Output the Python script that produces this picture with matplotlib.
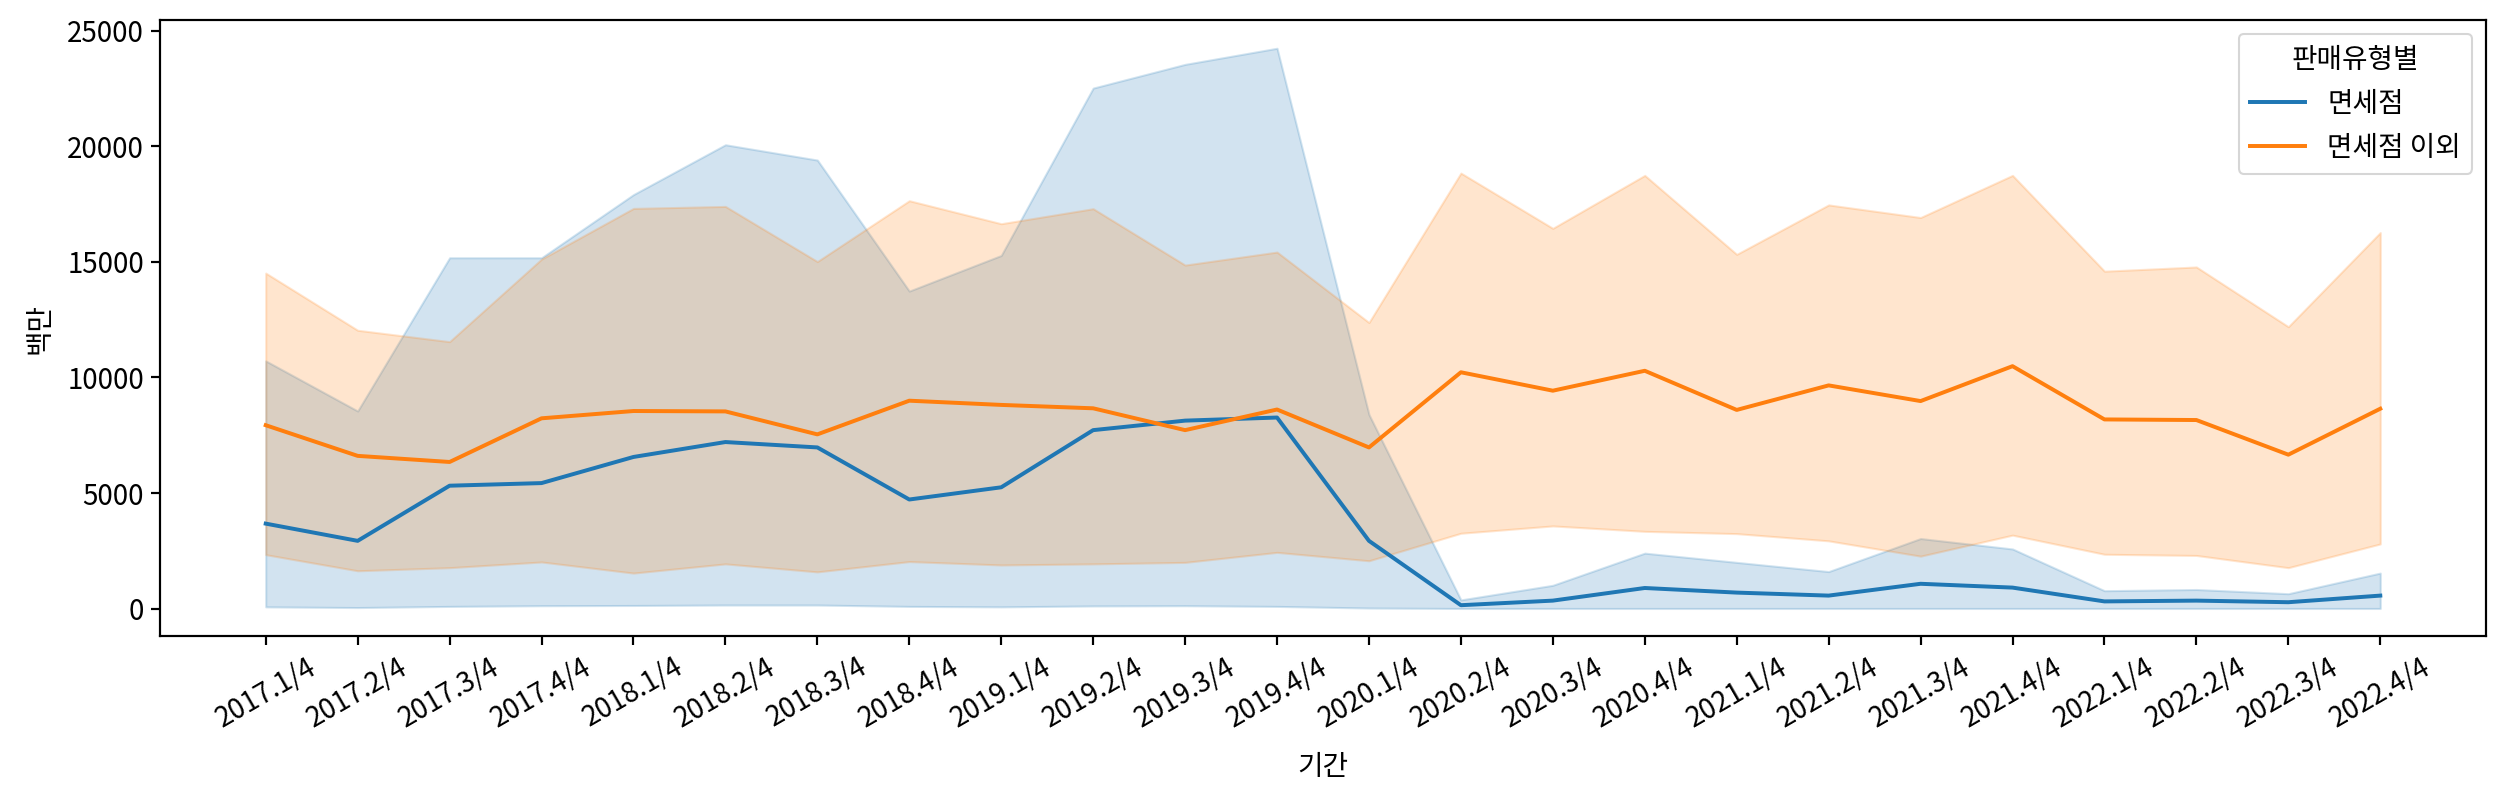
import matplotlib
matplotlib.use("Agg")
import matplotlib.pyplot as plt
import numpy as np

plt.rcParams['font.family'] = ['Noto Sans CJK KR', 'DejaVu Sans']
plt.rcParams['axes.unicode_minus'] = False
plt.rcParams['font.size'] = 13.3
plt.rcParams['axes.linewidth'] = 1.05
plt.rcParams['xtick.major.width'] = 1.05
plt.rcParams['ytick.major.width'] = 1.05
plt.rcParams['xtick.major.size'] = 4.2
plt.rcParams['ytick.major.size'] = 4.2

periods = ["2017.1/4", "2017.2/4", "2017.3/4", "2017.4/4",
           "2018.1/4", "2018.2/4", "2018.3/4", "2018.4/4",
           "2019.1/4", "2019.2/4", "2019.3/4", "2019.4/4",
           "2020.1/4", "2020.2/4", "2020.3/4", "2020.4/4",
           "2021.1/4", "2021.2/4", "2021.3/4", "2021.4/4",
           "2022.1/4", "2022.2/4", "2022.3/4", "2022.4/4"]

dutyfree_mean = [3680, 2935, 5320, 5433, 6563, 7208, 6975, 4723,
                 5251, 7723, 8134, 8268, 2935, 152, 350, 896,
                 697, 567, 1078, 913, 316, 350, 281, 567]
dutyfree_upper = [10718, 8550, 15177, 15177, 17909, 20065, 19403, 13736,
                  15277, 22515, 23541, 24238, 8398, 381, 1013, 2403,
                  2004, 1606, 3035, 2584, 779, 831, 649, 1541]
dutyfree_lower = [80, 50, 100, 130, 140, 160, 160, 100,
                  80, 120, 130, 100, 30, 10, 10, 10,
                  10, 10, 10, 10, 10, 10, 10, 10]

other_mean = [7936, 6610, 6346, 8234, 8550, 8533, 7540, 8996,
              8814, 8667, 7723, 8615, 6975, 10225, 9429, 10290,
              8597, 9658, 8980, 10489, 8186, 8160, 6662, 8649]
other_upper = [14515, 12043, 11550, 15120, 17312, 17398, 15013, 17645,
               16650, 17299, 14861, 15424, 12377, 18840, 16450, 18740,
               15325, 17463, 16918, 18740, 14597, 14779, 12195, 16268]
other_lower = [2338, 1641, 1775, 2022, 1541, 1939, 1593, 2039,
               1892, 1939, 2004, 2437, 2074, 3264, 3580, 3346,
               3247, 2935, 2273, 3182, 2355, 2303, 1775, 2801]

series_names = ["면세점", "면세점 이외"]
colors = ["#1f77b4", "#ff7f0e"]

W, H, DPI = 2506, 796, 150
fig = plt.figure(figsize=(W / DPI, H / DPI), dpi=DPI)
ax = fig.add_axes([160 / W, 1 - 636 / H, (2486 - 160) / W, (636 - 20) / H])

x = np.arange(len(periods))
data = [(dutyfree_mean, dutyfree_lower, dutyfree_upper),
        (other_mean, other_lower, other_upper)]
for (m, lo, hi), name, c in zip(data, series_names, colors):
    ax.plot(x, m, color=c, lw=1.9, label=name)
    ax.fill_between(x, lo, hi, color=c, alpha=0.2, linewidth=1.0)

ax.set_xticks(x)
ax.set_xticklabels(periods, rotation=30)
ax.set_xlim(-1.15, len(periods) - 1 + 1.15)
ax.set_ylim(-1180, 25460)
ax.set_yticks([0, 5000, 10000, 15000, 20000, 25000])
ax.set_xlabel("기간", labelpad=9)
ax.set_ylabel("백만", labelpad=6)
ax.legend(title="판매유형별", loc="upper right")

fig.savefig("out.png", dpi=DPI)
